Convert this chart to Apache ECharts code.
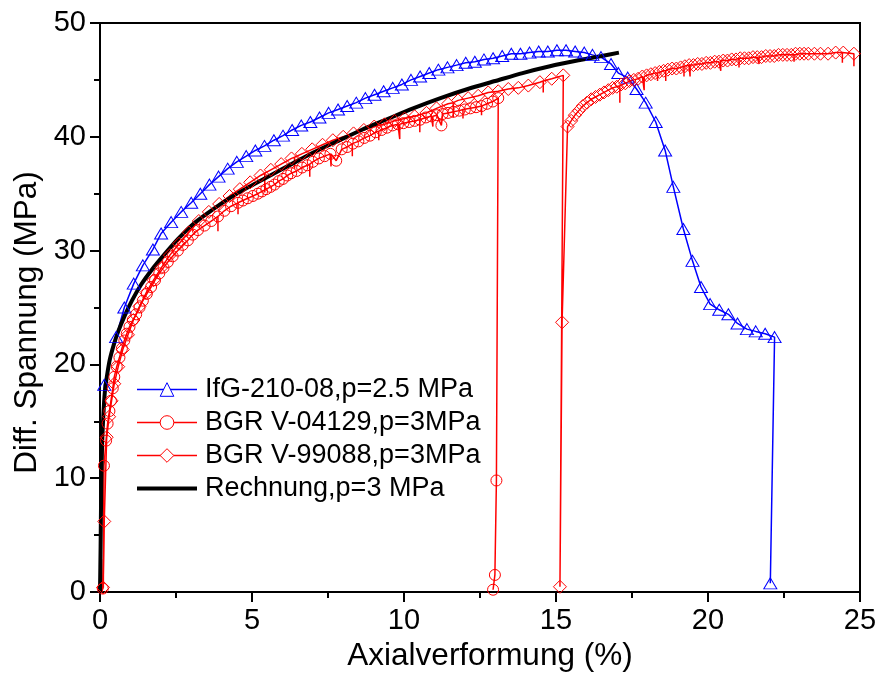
<!DOCTYPE html>
<html><head><meta charset="utf-8">
<script src="https://cdn.jsdelivr.net/npm/echarts@6/dist/echarts.min.js"></script>
<style>html,body{margin:0;padding:0;background:#fff}#c{width:880px;height:679px}</style>
</head><body><div id="c"></div>
<script>
// ---------- data ----------
const seriesNames = ['IfG-210-08,p=2.5 MPa', 'BGR V-04129,p=3MPa', 'BGR V-99088,p=3MPa', 'Rechnung,p=3 MPa'];

// IfG-210-08 (blue triangles)
const ifgLeadX = [0, 0.03, 0.07];
const ifgLeadY = [0, 6, 13];
const ifgX = [0.14,0.53,0.8,1.11,1.41,1.74,2.01,2.34,2.67,3.0,3.3,3.6,3.9,4.2,4.5,4.81,5.11,5.41,5.72,6.02,6.32,6.62,6.92,7.22,7.52,7.83,8.13,8.43,8.73,9.03,9.33,9.63,9.93,10.23,10.53,10.83,11.13,11.43,11.73,12.03,12.33,12.63,12.93,13.23,13.53,13.83,14.13,14.43,14.73,15.03,15.33,15.63,15.93,16.2,16.48,16.81,17.05,17.36,17.65,17.95,18.28,18.59,18.86,19.19,19.49,19.77,20.07,20.37,20.67,20.97,21.28,21.57,21.88,22.19,22.05];
const ifgY = [18.2,22.4,25.0,27.1,28.7,30.1,31.5,32.5,33.4,34.2,35.0,35.8,36.5,37.2,37.8,38.3,38.8,39.2,39.7,40.1,40.6,41.0,41.3,41.7,42.1,42.4,42.7,43.0,43.4,43.7,44.0,44.3,44.6,45.0,45.3,45.6,45.9,46.1,46.3,46.5,46.6,46.8,46.9,47.1,47.3,47.3,47.4,47.5,47.5,47.6,47.6,47.5,47.4,47.2,47.0,46.4,45.6,45.2,44.2,43.0,41.3,38.8,35.6,31.9,29.1,26.8,25.3,24.8,24.4,23.6,23.1,22.9,22.7,22.4,0.76];

// BGR V-04129 (red circles)
const circX = [0.09,0.13,0.2,0.25,0.31,0.36,0.42,0.47,0.55,0.64,0.72,0.8,0.88,0.97,1.08,1.19,1.3,1.41,1.54,1.68,1.81,1.95,2.09,2.23,2.39,2.56,2.72,2.89,3.05,3.22,3.44,3.66,3.88,4.09,4.31,4.54,4.7,4.86,5.03,5.19,5.33,5.47,5.61,5.74,5.88,6.02,6.16,6.29,6.47,6.65,6.82,7.0,7.2,7.39,7.58,7.77,7.95,8.13,8.32,8.5,8.69,8.88,9.07,9.26,9.44,9.62,9.8,9.98,10.17,10.35,10.53,10.72,10.9,11.08,11.23,11.27,11.45,11.63,11.82,12.0,12.18,12.37,12.55,12.73,12.92,13.1];
const circY = [0.3,11.1,13.3,14.8,15.9,16.8,17.9,18.9,19.8,20.6,21.4,22.1,22.7,23.3,23.9,24.4,25.0,25.6,26.2,26.8,27.4,28.0,28.5,29.0,29.5,30.0,30.5,30.9,31.4,31.8,32.2,32.6,33.0,33.5,33.9,34.2,34.4,34.6,34.8,35.0,35.2,35.4,35.6,35.8,36.1,36.3,36.6,36.8,37.0,37.3,37.5,37.8,38.1,38.3,38.5,37.9,38.9,39.1,39.4,39.6,39.9,40.1,40.4,40.6,40.8,41.0,41.1,41.2,41.3,41.4,41.5,41.7,41.8,41.9,41.0,42.0,42.1,42.2,42.3,42.4,42.5,42.6,42.7,42.9,43.1,43.4];
const circSpikes = [[0.11,0.4,2.9],[3.88,33.0,31.7],[4.54,34.2,33.2],[6.9,37.6,36.5],[7.6,38.5,37.4],[8.3,39.4,38.3],[9.17,40.5,39.7],[9.86,41.1,39.8],[10.52,41.5,40.4],[10.95,41.8,40.9],[11.94,42.4,41.6],[12.55,42.7,41.9]];
const circDropX = [13.04,12.99,12.93];
const circDropY = [9.8,1.5,0.2];

// BGR V-99088 (red diamonds)
const diaX1 = [0.1,0.14,0.22,0.3,0.38,0.47,0.6,0.75,0.92,1.1,1.3,1.52,1.76,2.02,2.3,2.6,2.92,3.25,3.58,3.92,4.26,4.6,4.94,5.28,5.62,5.96,6.3,6.64,6.98,7.32,7.66,8.0,8.34,8.68,9.02,9.36,9.69,10.02,10.35,10.74,11.07,11.45,11.78,12.11,12.44,12.77,13.1,13.43,13.76,14.09,14.47,14.86,15.24];
const diaY1 = [0.4,6.2,13.6,15.4,16.8,18.3,19.8,21.3,22.6,23.9,25.1,26.3,27.4,28.5,29.6,30.6,31.6,32.6,33.4,34.1,34.8,35.4,36.0,36.6,37.1,37.6,38.1,38.5,38.9,39.3,39.7,40.0,40.3,40.6,40.9,41.1,41.4,41.6,41.8,42.1,42.5,42.9,43.2,43.4,43.6,43.9,44.0,44.2,44.3,44.5,44.8,45.1,45.4];
const diaSpikes1 = [[5.42,36.8,35.1],[6.4,38.2,37.2],[11.62,43.0,41.7],[14.58,44.9,43.9]];
const diaX2 = [15.13,15.2,15.38,15.5,15.62,15.75,15.88,16.02,16.16,16.3,16.44,16.58,16.72,16.86,17.0,17.14,17.28,17.42,17.56,17.7,17.84,17.98,18.12,18.26,18.4,18.54,18.68,18.82,18.96,19.1,19.24,19.38,19.52,19.66,19.8,19.94,20.08,20.22,20.36,20.5,20.64,20.78,20.92,21.06,21.2,21.34,21.48,21.62,21.76,21.9,22.04,22.18,22.32,22.46,22.6,22.74,22.88,23.02,23.16,23.3,23.5,23.7,23.95,24.2,24.45,24.8];
const diaY2 = [0.46,23.7,40.9,41.4,41.9,42.3,42.7,43.0,43.3,43.5,43.7,43.9,44.1,44.3,44.4,44.6,44.7,44.9,45.0,45.1,45.3,45.4,45.5,45.6,45.7,45.8,45.9,46.0,46.0,46.1,46.2,46.3,46.3,46.4,46.4,46.5,46.5,46.6,46.6,46.7,46.7,46.8,46.8,46.9,46.9,46.9,47.0,47.0,47.0,47.1,47.1,47.1,47.2,47.2,47.2,47.2,47.3,47.3,47.3,47.3,47.3,47.3,47.3,47.4,47.4,47.3];
const diaSpikes2 = [[17.1,44.5,43.0],[17.9,45.3,44.1],[18.34,45.6,44.9],[18.61,45.8,44.9],[19.21,46.2,45.3],[19.41,46.3,45.3],[20.42,46.7,45.8],[21.02,46.9,46.1],[21.68,47.0,46.4],[22.83,47.2,46.6],[24.42,47.4,46.5],[24.8,47.3,46.2]];

// Rechnung (black line)
const calcX = [0,0.02,0.04,0.07,0.11,0.16,0.23,0.32,0.45,0.6,0.8,1.05,1.35,1.7,2.1,2.56,3.05,3.6,4.2,4.9,5.6,6.3,7.0,7.8,8.6,9.4,10.3,11.2,12.1,13.0,13.9,14.8,15.7,16.5,17.07];
const calcY = [0,4,9,13,15.5,17.6,19.0,20.4,21.7,22.9,24.2,25.6,27.0,28.3,29.6,31.0,32.3,33.4,34.5,35.6,36.6,37.6,38.6,39.6,40.6,41.5,42.5,43.4,44.2,44.9,45.6,46.2,46.7,47.1,47.4];

// ---------- building series data ----------
function lineOnly(x, y) { return { value: [x, y], symbol: 'none' }; }
function segment(xs, ys, spikes) {
  const out = [];
  const sp = (spikes || []).slice().sort((a, b) => a[0] - b[0]);
  let k = 0;
  for (let i = 0; i < xs.length; i++) {
    out.push({ value: [xs[i], ys[i]] });
    const nx = i + 1 < xs.length ? xs[i + 1] : Infinity;
    while (k < sp.length && sp[k][0] >= xs[i] && sp[k][0] < nx) {
      out.push(lineOnly(sp[k][0], sp[k][1]), lineOnly(sp[k][0], sp[k][2]), lineOnly(sp[k][0], sp[k][1]));
      k++;
    }
  }
  return out;
}
const ifgData = ifgLeadX.map((x, i) => lineOnly(x, ifgLeadY[i])).concat(segment(ifgX, ifgY));
const circData = [lineOnly(0.05, 0)].concat(segment(circX, circY, circSpikes), segment(circDropX, circDropY));
const diaData = [lineOnly(0.05, 0)].concat(segment(diaX1, diaY1, diaSpikes1), segment(diaX2, diaY2, diaSpikes2));
const calcData = calcX.map((x, i) => [x, calcY[i]]);

const FONT = "'Liberation Sans', Arial, Helvetica, sans-serif";
const chart = echarts.init(document.getElementById('c'), null, { renderer: 'canvas' });

function axisCommon() {
  return {
    type: 'value',
    axisLine: { show: true, onZero: false, lineStyle: { color: '#000', width: 2 } },
    axisTick: { show: true, inside: false, length: 10, lineStyle: { color: '#000', width: 2 } },
    minorTick: { show: true, splitNumber: 2, length: 6, lineStyle: { color: '#000', width: 2 } },
    splitLine: { show: false },
    minorSplitLine: { show: false },
    axisLabel: { fontSize: 29, color: '#000', fontFamily: FONT, margin: 14 },
    nameLocation: 'middle',
  };
}

const option = {
  animation: false,
  backgroundColor: '#fff',
  grid: { left: 100, right: 20, top: 23, bottom: 87, show: true, borderColor: '#000', borderWidth: 2, backgroundColor: 'transparent', containLabel: false },
  xAxis: Object.assign(axisCommon(), {
    min: 0, max: 25, interval: 5,
    name: 'Axialverformung (%)', nameGap: 43,
    nameTextStyle: { fontSize: 31.5, color: '#000', fontFamily: FONT, padding: [0, 0, 0, 20] }
  }),
  yAxis: Object.assign(axisCommon(), {
    min: 0, max: 50, interval: 10,
    name: 'Diff. Spannung (MPa)', nameGap: 56,
    nameTextStyle: { fontSize: 31.5, color: '#000', fontFamily: FONT, padding: [0, 30, 0, 0] }
  }),
  legend: {
    orient: 'vertical', left: 130, top: 371, padding: 5,
    itemWidth: 60, itemHeight: 17, itemGap: 6,
    selectedMode: false,
    itemStyle: { color: '#fff', borderWidth: 1 },
    lineStyle: { width: 1.5 },
    textStyle: { fontSize: 27, color: '#000', fontFamily: FONT, lineHeight: 27, padding: [0, 0, 0, 3] },
    data: [
      seriesNames[0], seriesNames[1], seriesNames[2],
      { name: seriesNames[3], itemStyle: { color: 'rgba(0,0,0,0)', borderColor: 'rgba(0,0,0,0)', borderWidth: 0 }, lineStyle: { width: 4 } }
    ]
  },
  series: [
    {
      name: seriesNames[0], type: 'line', data: ifgData, showAllSymbol: true,
      symbol: 'triangle', symbolSize: [13, 11],
      itemStyle: { color: 'rgba(255,255,255,0)', borderColor: '#0000ff', borderWidth: 1 },
      lineStyle: { color: '#0000ff', width: 1.5 },
      emphasis: { disabled: true }
    },
    {
      name: seriesNames[1], type: 'line', data: circData, showAllSymbol: true,
      symbol: 'circle', symbolSize: 11,
      itemStyle: { color: 'rgba(255,255,255,0)', borderColor: '#ff0000', borderWidth: 1 },
      lineStyle: { color: '#ff0000', width: 1.5 },
      emphasis: { disabled: true }
    },
    {
      name: seriesNames[2], type: 'line', data: diaData, showAllSymbol: true,
      symbol: 'diamond', symbolSize: [13, 13],
      itemStyle: { color: 'rgba(255,255,255,0)', borderColor: '#ff0000', borderWidth: 1 },
      lineStyle: { color: '#ff0000', width: 1.5 },
      emphasis: { disabled: true }
    },
    {
      name: seriesNames[3], type: 'line', data: calcData, symbol: 'none', smooth: 0.25,
      itemStyle: { color: '#000' },
      lineStyle: { color: '#000', width: 4 },
      emphasis: { disabled: true }
    }
  ]
};
chart.setOption(option);
</script>
</body></html>
